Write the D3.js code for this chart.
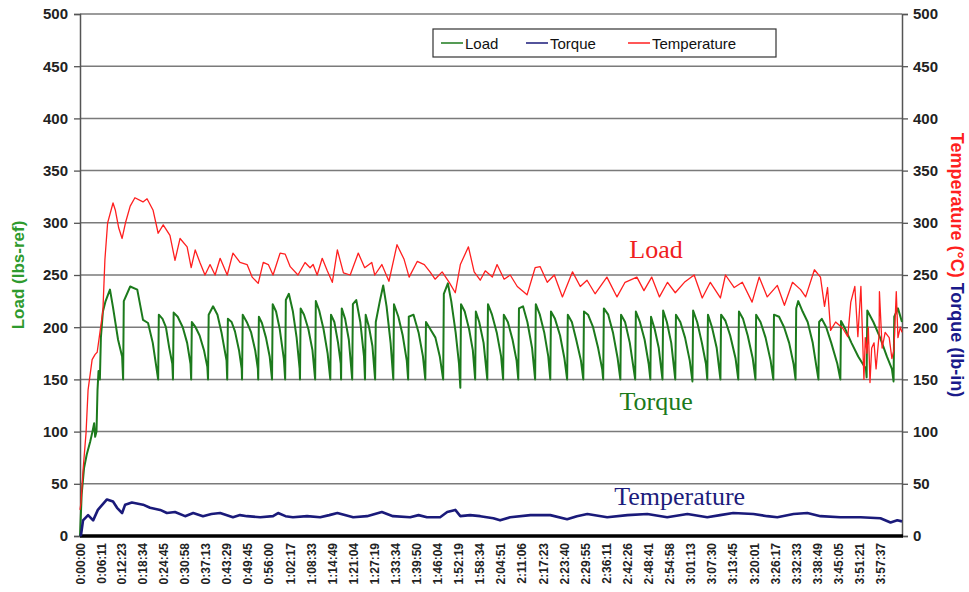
<!DOCTYPE html>
<html>
<head>
<meta charset="utf-8">
<script src="https://cdn.jsdelivr.net/npm/d3@7"></script>
<style>
body { margin: 0; background: #fff; }
svg { display: block; font-family: Arial, "Liberation Sans", sans-serif; }
</style>
</head>
<body>
<svg width="969" height="592"></svg>
<script>
// category labels of the time axis
const timeLabels = ['0:00:00','0:06:11','0:12:23','0:18:34','0:24:45','0:30:58','0:37:13','0:43:29','0:49:45','0:56:00',
  '1:02:17','1:08:33','1:14:49','1:21:04','1:27:19','1:33:34','1:39:50','1:46:04','1:52:19','1:58:34',
  '2:04:51','2:11:06','2:17:23','2:23:40','2:29:55','2:36:11','2:42:26','2:48:41','2:54:58','3:01:13',
  '3:07:30','3:13:45','3:20:01','3:26:17','3:32:33','3:38:49','3:45:05','3:51:21','3:57:37'];
const yTicks = [0, 50, 100, 150, 200, 250, 300, 350, 400, 450, 500];

// [minutes, lbs]
const loadData = [[0,0],[0.5,40],[1.2,65],[2,78],[3,90],[3.7,100],[4.2,108],[4.5,95],[4.9,100],[5.2,140],[5.5,158],[5.9,150],
  [6.2,190],[6.8,215],[7.6,225],[8.3,231],[8.9,236],[9.8,219],[11.3,188],[12.5,172],[12.8,150],
  [13,225],[14.9,239],[17,236],[18.7,207],[20.2,204],[21.6,185],[23.2,150],
  [23.4,212],[24.5,208],[25.5,200],[26.5,180],[27.4,165],[27.6,150],
  [27.8,214],[29,210],[30.5,200],[31.8,185],[32.8,165],[33,150],
  [33.2,205],[34.3,200],[35.5,192],[36.8,178],[37.8,162],[38,150],
  [38.2,212],[39.5,220],[40.8,212],[42,195],[43.5,168],[43.7,150],
  [43.9,208],[45,205],[46,196],[47.2,178],[48,160],[48.1,150],
  [48.3,212],[49.5,205],[50.8,195],[52,178],[52.8,160],[52.9,150],
  [53.1,210],[54,204],[55.2,190],[56.3,172],[57,150],
  [57.2,222],[58.2,215],[59.3,198],[60.5,170],[60.9,150],
  [61.1,226],[62,232],[63.2,215],[64.3,190],[65.2,160],[65.3,150],
  [65.5,218],[66.5,212],[67.8,198],[69,178],[69.8,150],
  [70,225],[71,216],[72.3,198],[73.5,175],[74.3,150],
  [74.5,212],[75.5,205],[76.6,185],[77.4,165],[77.5,150],
  [77.7,218],[78.7,208],[79.8,188],[80.8,150],
  [81,222],[82,226],[83.2,205],[84.3,172],[84.6,150],
  [84.8,212],[85.8,200],[86.8,182],[87.6,150],
  [87.8,205],[89,225],[90,240],[91,220],[92.2,185],[93,150],
  [93.2,222],[94.5,210],[95.8,192],[97,168],[97.4,150],
  [97.6,210],[99,212],[100.5,195],[101.8,172],[102.5,150],
  [102.7,205],[104,198],[105.5,190],[106.8,172],[107.8,150],
  [108,232],[109.2,242],[110.2,225],[111.5,195],[112.5,165],[112.9,142],
  [113.1,222],[114.2,215],[115.5,198],[116.6,178],[117.3,150],
  [117.5,215],[118.5,205],[119.8,185],[120.9,150],
  [121.1,222],[122.3,212],[123.7,195],[125,172],[125.6,150],
  [125.8,212],[127,205],[128.4,188],[129.6,168],[130.1,150],
  [130.3,218],[131.5,220],[132.8,205],[134.2,180],[135.1,150],
  [135.3,222],[136.5,212],[137.8,195],[139,172],[139.6,150],
  [139.8,215],[141,208],[142.5,192],[143.8,170],[144.6,150],
  [144.8,212],[146,205],[147.3,188],[148.7,168],[149.4,150],
  [149.6,215],[150.8,212],[152.3,200],[153.8,180],[155,160],[155.3,150],
  [155.5,218],[156.8,212],[158.2,195],[159.6,170],[160.4,150],
  [160.6,212],[161.8,205],[163.2,185],[164.8,150],
  [165,215],[166.2,205],[167.6,188],[168.8,165],[169.3,150],
  [169.5,210],[170.6,198],[171.8,180],[172.9,150],
  [173.1,216],[174.2,205],[175.5,185],[176.7,150],
  [176.9,212],[178.2,205],[179.6,190],[181,168],[181.8,148],
  [182,216],[183.2,205],[184.6,185],[185.8,165],[186.2,150],
  [186.4,212],[187.6,200],[189,180],[190.1,150],
  [190.3,212],[191.6,206],[193,192],[194.6,170],[195.4,150],
  [195.6,215],[196.8,208],[198.2,192],[199.7,170],[200.5,150],
  [200.7,212],[202,205],[203.5,190],[205,168],[205.8,150],
  [206,212],[207.5,210],[209,200],[210.5,185],[211.8,165],[212.4,150],
  [212.6,218],[213.2,225],[214.5,215],[216,205],[217.5,185],[218.7,160],[219.2,150],
  [219.4,205],[220.2,208],[221.5,200],[223,185],[224.8,165],[225.7,150],
  [225.9,206],[227.2,198],[229,185],[231,172],[233.3,160],[233.5,152],
  [233.7,216],[235.5,205],[237.5,190],[239.5,172],[241,160],[241.5,148],
  [241.7,210],[242.8,218],[244,205]];

// [minutes, degC]
const tempData = [[0,25],[0.3,32],[0.9,63],[1.8,99],[2.4,140],[3.6,169],[4.5,174],[5.1,176],[6,197],[6.8,216],[7.4,265],[8.2,300],
  [9.8,319],[10.5,312],[11.5,295],[12.5,285],[13.5,300],[14.9,316],[16.3,324],[18.7,320],[19.9,323],[21.7,312],[23.2,290],
  [24.7,298],[26.7,288],[28.2,264],[29.7,285],[31.8,277],[33,257],[34.2,274],[35.6,262],[37.1,250],[38.6,260],[40.1,250],
  [41.6,266],[43.7,250],[45.4,271],[47.5,262],[49.6,260],[51.1,248],[52.9,242],[54.4,262],[55.9,260],[57.3,250],[59.4,271],
  [60.9,270],[62.4,258],[64.7,250],[66.8,262],[68.3,257],[69.2,260],[70.4,250],[71.9,266],[73.4,254],[74.9,243],[76.4,274],
  [78.2,252],[80.2,250],[82.6,271],[84.5,257],[86.6,262],[87.5,250],[89.6,260],[91.7,244],[94.1,279],[96.2,265],[97.7,248],
  [100.1,263],[102.2,260],[103.9,253],[105.4,246],[107.5,253],[109.6,243],[111.4,233],[112.9,260],[115.3,277],[117,253],
  [118.8,245],[120.3,254],[122.4,248],[123.8,260],[125.9,246],[127.7,250],[129.8,239],[132.7,231],[135.1,257],[136.6,258],
  [138.7,243],[140.8,250],[143.2,229],[146.2,253],[148.5,239],[150.5,245],[152.9,232],[156.4,248],[159.4,229],[161.8,243],
  [165.3,248],[167.4,235],[169.7,248],[172,229],[174.4,243],[176.7,233],[179.4,243],[182.3,250],[184.7,228],[187.1,243],
  [190.1,228],[191.6,250],[194.2,238],[196.6,243],[199.5,224],[201.6,248],[204,229],[207,240],[209.1,221],[211.5,243],
  [213.9,236],[215.4,229],[218,255],[219.8,248],[221,220],[221.9,238],[222.8,197],[224.3,205],[226.4,199],[227.9,191],
  [228.8,224],[230,239],[230.9,191],[231.8,239],[232.7,150],[233.1,190],[233.6,175],[234,200],[234.5,147],[235,180],
  [235.7,185],[236.3,160],[237.2,193],[237.3,234],[238.1,180],[239,195],[240.2,190],[241,170],[241.6,178],[242.3,234],
  [242.8,190],[243.5,200],[244,195]];

// [minutes, lb-in]
const torqueData = [[0,0],[0.3,1],[0.9,15],[2.4,20],[3.9,15],[5.3,25],[8,35],[9.8,33],[11,27],[12.5,22],[13.4,30],[15.4,32],
  [18.7,30],[20.8,27],[23.8,25],[25.8,22],[28.2,23],[31.2,19],[33.6,22],[36.5,19],[39,21],[41.6,22],[45.4,18],[47.5,20],
  [49.6,19],[53.5,18],[57.3,19],[58.8,22],[61,19],[63.2,18],[67.4,19],[71.3,18],[74,20],[76.4,22],[81.1,18],[85.2,19],
  [89.6,23],[92.9,19],[98,18],[100.5,20],[103,18],[106.9,18],[109,23],[111.4,25],[112.9,19],[115.8,20],[118.8,19],
  [122.7,17],[124.7,15],[127.7,18],[133.7,20],[139.6,20],[144.6,16],[147.5,19],[150.6,21],[156.5,18],[162.5,20],
  [168.4,21],[174.3,18],[180.3,21],[186.2,18],[190,20],[193.9,22],[199.9,21],[204,19],[207,18],[211.8,21],[215.9,22],
  [219.8,19],[225.7,18],[231.7,18],[237.6,17],[240.6,13],[242.6,15],[244,14]];

const svg = d3.select('svg');
const x = d3.scaleLinear().domain([0, 244]).range([80, 902]);
const y = d3.scaleLinear().domain([0, 500]).range([536, 14]);
const toMin = s => { const p = s.split(':').map(Number); return p[0] * 60 + p[1] + p[2] / 60; };

// gridlines
svg.append('g').selectAll('line').data(yTicks.filter(d => d > 0)).enter().append('line')
  .attr('x1', 80).attr('x2', 902)
  .attr('y1', d => y(d)).attr('y2', d => y(d))
  .attr('stroke', '#7a7a7a').attr('stroke-width', 1.5);

// left axis
const left = svg.append('g').attr('transform', 'translate(80,0)')
  .call(d3.axisLeft(y).tickValues(yTicks).tickSize(6).tickPadding(6));
// right axis
const right = svg.append('g').attr('transform', 'translate(902,0)')
  .call(d3.axisRight(y).tickValues(yTicks).tickSize(6).tickPadding(5));
[left, right].forEach(g => {
  g.select('.domain').attr('stroke', '#555').attr('stroke-width', 1.5);
  g.selectAll('.tick line').attr('stroke', '#555').attr('stroke-width', 1.3);
  g.selectAll('text').attr('font-size', 15).attr('font-weight', 'bold').attr('fill', '#222');
});

// bottom axis
const bottom = svg.append('g').attr('transform', 'translate(0,536)')
  .call(d3.axisBottom(x).tickValues(timeLabels.map(toMin)).tickFormat((d, i) => timeLabels[i]).tickSize(0));
bottom.select('.domain').remove();
bottom.selectAll('text')
  .attr('transform', 'rotate(-90)')
  .attr('x', -7).attr('y', 0).attr('dy', '0.35em')
  .style('text-anchor', 'end')
  .attr('font-size', 12).attr('font-weight', 'bold').attr('fill', '#222');
svg.append('line').attr('x1', 80).attr('x2', 903).attr('y1', 536).attr('y2', 536)
  .attr('stroke', '#000').attr('stroke-width', 3.5);

// series
const line = d3.line().x(d => x(d[0])).y(d => y(d[1]));
svg.append('path').datum(loadData).attr('d', line)
  .attr('fill', 'none').attr('stroke', '#1c7a1c').attr('stroke-width', 2).attr('stroke-linejoin', 'round');
svg.append('path').datum(torqueData).attr('d', line)
  .attr('fill', 'none').attr('stroke', '#1a1a7a').attr('stroke-width', 2.6).attr('stroke-linejoin', 'round');
svg.append('path').datum(tempData).attr('d', line)
  .attr('fill', 'none').attr('stroke', '#ff1f1f').attr('stroke-width', 1.3).attr('stroke-linejoin', 'round');

// annotations inside plot
const notes = [
  { text: 'Load', t: 171, v: 266, color: '#f02020' },
  { text: 'Torque', t: 171, v: 121, color: '#1c7a1c' },
  { text: 'Temperature', t: 178, v: 30, color: '#1c1c7c' }
];
svg.append('g').selectAll('text').data(notes).enter().append('text')
  .attr('x', d => x(d.t)).attr('y', d => y(d.v))
  .attr('text-anchor', 'middle')
  .attr('font-family', '"Liberation Serif", "Times New Roman", serif')
  .attr('font-size', 26).attr('fill', d => d.color)
  .text(d => d.text);

// axis titles
svg.append('text')
  .attr('transform', 'translate(24,275) rotate(-90)')
  .attr('text-anchor', 'middle').attr('font-size', 17).attr('font-weight', 'bold').attr('fill', '#2e9a2e')
  .text('Load (lbs-ref)');
const rt = svg.append('text')
  .attr('transform', 'translate(951,265) rotate(90)')
  .attr('text-anchor', 'middle').attr('font-size', 18).attr('font-weight', 'bold');
rt.append('tspan').attr('fill', '#ff1f1f').text('Temperature (°C) ');
rt.append('tspan').attr('fill', '#1a1a8a').text('Torque (lb-in)');

// legend
const series = [
  { name: 'Load', color: '#1c7a1c' },
  { name: 'Torque', color: '#1a1a7a' },
  { name: 'Temperature', color: '#ff1f1f' }
];
const lg = svg.append('g');
lg.append('rect').attr('x', 433).attr('y', 29).attr('width', 343).attr('height', 28)
  .attr('fill', '#fff').attr('stroke', '#333').attr('stroke-width', 1.2);
const lx = [441, 526, 628];
series.forEach((s, i) => {
  lg.append('line').attr('x1', lx[i]).attr('x2', lx[i] + 22).attr('y1', 43).attr('y2', 43)
    .attr('stroke', s.color).attr('stroke-width', 1.5);
  lg.append('text').attr('x', lx[i] + 24).attr('y', 48.5).attr('font-size', 15).attr('fill', '#111').text(s.name);
});
</script>
</body>
</html>
